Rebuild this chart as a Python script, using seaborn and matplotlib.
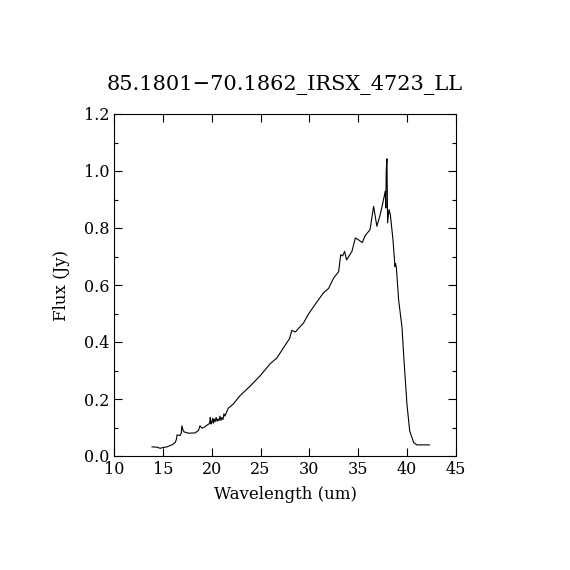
import numpy as np
import pandas as pd
import matplotlib
matplotlib.use("Agg")
import matplotlib.pyplot as plt
from matplotlib.ticker import MultipleLocator
import seaborn as sns

wavelength = [13.87, 14.39, 14.73, 15.05, 15.41, 15.92, 16.26, 16.40, 16.45, 16.77,
              16.88, 16.95, 17.05, 17.15, 17.6, 18.3, 18.65, 18.8, 18.99, 19.2,
              19.5, 19.7, 19.8, 19.85, 19.92, 20.0, 20.1, 20.17, 20.25, 20.35,
              20.45, 20.55, 20.65, 20.75, 20.85, 20.95, 21.05, 21.15, 21.25, 21.35,
              21.7, 22.2, 22.9, 23.9, 24.97, 25.99, 26.67, 27.5, 27.97, 28.2,
              28.55, 29.4, 29.9, 30.77, 31.45, 31.96, 32.47, 32.99, 33.2, 33.4,
              33.6, 33.8, 34.35, 34.7, 35.0, 35.4, 35.7, 36.2, 36.57, 36.9,
              37.2, 37.5, 37.76, 37.82, 37.86, 37.93, 38.0, 38.14, 38.28, 38.55,
              38.75, 38.82, 38.9, 39.13, 39.47, 39.7, 39.98, 40.26, 40.67, 41.0,
              42.3]
flux = [0.032, 0.031, 0.027, 0.030, 0.032, 0.039, 0.047, 0.060, 0.074, 0.072,
        0.080, 0.106, 0.092, 0.085, 0.080, 0.081, 0.090, 0.106, 0.098, 0.100,
        0.108, 0.112, 0.118, 0.135, 0.112, 0.118, 0.132, 0.115, 0.130, 0.120,
        0.135, 0.122, 0.130, 0.124, 0.140, 0.125, 0.135, 0.128, 0.148, 0.140,
        0.168, 0.182, 0.212, 0.244, 0.282, 0.324, 0.344, 0.388, 0.412, 0.441,
        0.435, 0.467, 0.498, 0.541, 0.573, 0.588, 0.624, 0.647, 0.706, 0.702,
        0.718, 0.688, 0.718, 0.765, 0.759, 0.749, 0.773, 0.794, 0.876, 0.806,
        0.841, 0.886, 0.929, 0.870, 1.000, 1.043, 0.818, 0.865, 0.847, 0.759,
        0.665, 0.675, 0.660, 0.547, 0.453, 0.324, 0.182, 0.088, 0.047, 0.039,
        0.039]

df = pd.DataFrame({"Wavelength": wavelength, "Flux": flux})

sns.set_style("ticks")
plt.rcParams['font.family'] = ['DejaVu Serif']
plt.rcParams.update({'text.color': 'black', 'axes.labelcolor': 'black',
                     'xtick.color': 'black', 'ytick.color': 'black'})

fig = plt.figure(figsize=(5.7, 5.7), dpi=100)
ax = fig.add_axes([0.2, 0.2, 0.6, 0.6])
sns.lineplot(data=df, x="Wavelength", y="Flux", color="black", linewidth=0.8,
             estimator=None, sort=False, ax=ax)

ax.set_xlim(10, 45)
ax.set_ylim(0, 1.2)
ax.xaxis.set_major_locator(MultipleLocator(5))
ax.yaxis.set_major_locator(MultipleLocator(0.2))
ax.yaxis.set_minor_locator(MultipleLocator(0.1))
ax.yaxis.set_major_formatter(matplotlib.ticker.FormatStrFormatter('%.1f'))
ax.tick_params(which='both', direction='in', top=True, right=True, labelsize=11.5,
               color='black', width=0.8)
ax.tick_params(which='major', length=6)
ax.tick_params(which='minor', length=3)
for s in ax.spines.values():
    s.set_color('black')
    s.set_linewidth(0.8)
ax.set_xlabel("Wavelength (um)", fontsize=12, labelpad=6)
ax.set_ylabel("Flux (Jy)", fontsize=12, labelpad=10)
ax.set_title("85.1801\u221270.1862_IRSX_4723_LL", fontsize=15, pad=17)

fig.savefig("out.png", dpi=100, facecolor="white")
